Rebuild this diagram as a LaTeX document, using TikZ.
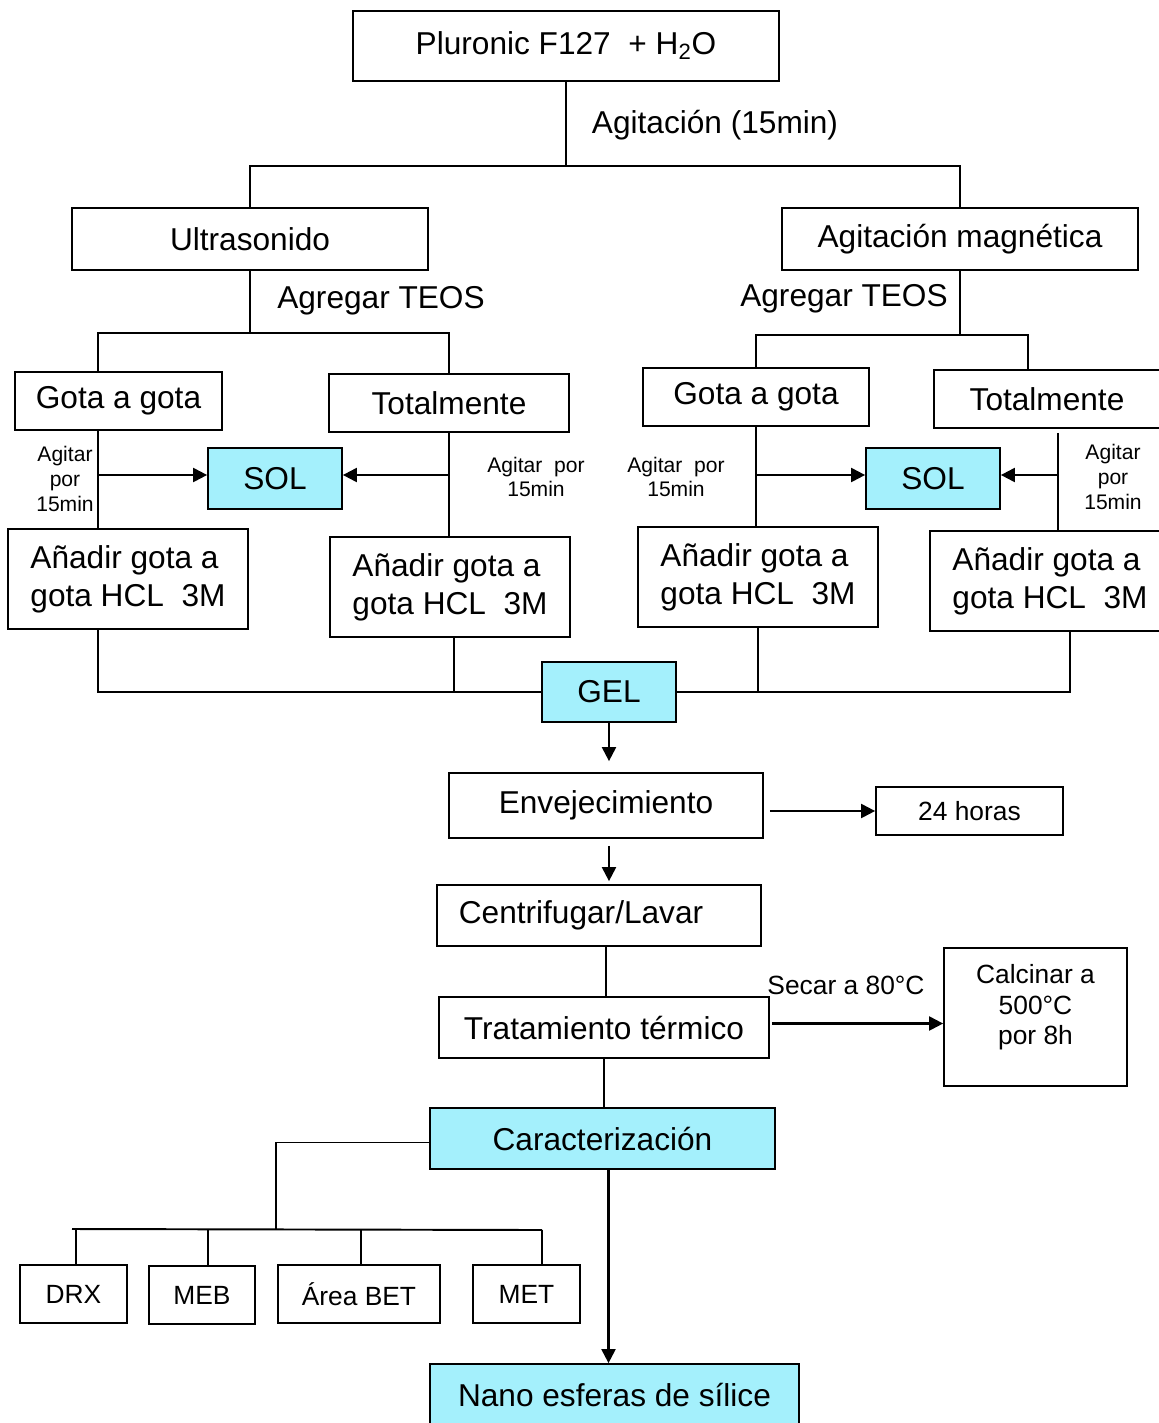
\documentclass[tikz,border=0pt]{standalone}
\usepackage{fontspec}
\setmainfont{Liberation Sans}
\usetikzlibrary{arrows.meta}
\definecolor{gel-cyan}{RGB}{164,240,252}
\tikzset{
    flow-box/.style = {draw=black, fill=white, line width=1pt, rectangle, inner sep=2pt, font=\fontsize{18}{21.6}\selectfont},
    flow-box-fill/.style = {flow-box, fill=gel-cyan},
    box-size/.style 2 args = {minimum width=#1*0.02cm, minimum height=#2*0.02cm},
    flow-label/.style = {font=\fontsize{18}{21.6}\selectfont, inner sep=0pt},
    small-label/.style = {font=\fontsize{12}{14}\selectfont, align=center, inner sep=0pt},
    mid-label/.style = {font=\fontsize{15}{17.6}\selectfont},
    flow-line/.style = {line width=1.1pt},
    flow-arrow/.style = {-{Triangle[length=8pt,width=8pt]}, line width=1.2pt},
}

\begin{document}
\begin{tikzpicture}[x=0.02cm, y=-0.02cm]
\path[use as bounding box, fill=white] (0,0) rectangle (1159,1423);

% boxes
\node[flow-box, box-size={426}{70}] (pluronic) at (566,46) {Pluronic F127~ + H\textsubscript{2}O};
\node[flow-box, box-size={356}{62}] (ultra) at (250,239) {Ultrasonido};
\node[flow-box, box-size={356}{62}] (magnetica) at (960,239) {Agitación magnética};
\node[flow-box, box-size={207}{58}] (gotaL) at (118.5,401) {Gota a gota};
\node[flow-box, box-size={240}{58}] (totalL) at (449,403) {Totalmente};
\node[flow-box-fill, box-size={134}{61}] (solL) at (275,478.5) {SOL};
\node[flow-box, box-size={240}{100}, align=left] (anadirL1) at (128,579) {Añadir gota a\\gota HCL~ 3M};
\node[flow-box, box-size={240}{100}, align=left] (anadirL2) at (450,587) {Añadir gota a\\gota HCL~ 3M};
\node[flow-box, box-size={226}{58}] (gotaR) at (756,397) {Gota a gota};
\node[flow-box, box-size={226}{58}] (totalR) at (1047,399) {Totalmente};
\node[flow-box-fill, box-size={134}{61}] (solR) at (933,478.5) {SOL};
\node[flow-box, box-size={240}{100}, align=left] (anadirR1) at (758,577) {Añadir gota a\\gota HCL~ 3M};
\node[flow-box, box-size={240}{100}, align=left] (anadirR2) at (1050,581) {Añadir gota a\\gota HCL~ 3M};
\node[flow-box-fill, box-size={134}{60}] (gel) at (609,692) {GEL};
\node[flow-box, box-size={314}{65}] (envejec) at (606,805.5) {Envejecimiento};
\node[flow-box, mid-label, box-size={187}{48}] (horas) at (969.5,811) {24 horas};
\node[flow-box, box-size={324}{61}] (centri) at (599,915.5) {\hspace*{-0.72cm}Centrifugar/Lavar};
\node[flow-box, box-size={330}{61}] (termico) at (604,1027.5) {Tratamiento térmico};
\node[flow-box, mid-label, box-size={183}{138}, align=center, text depth=0.5cm] (calcinar) at (1035.5,1017) {Calcinar a\\500°C\\por 8h};
\node[flow-box-fill, box-size={345}{61}] (caract) at (602.5,1138.5) {Caracterización};
\node[flow-box, mid-label, box-size={107}{58}] (drx) at (73.5,1294) {DRX};
\node[flow-box, mid-label, box-size={106}{58}] (meb) at (202,1295) {MEB};
\node[flow-box, mid-label, box-size={162}{58}] (bet) at (359,1294) {Área BET};
\node[flow-box, mid-label, box-size={107}{58}] (met) at (526.5,1294) {MET};
\node[flow-box-fill, box-size={369}{62}] (nano) at (614.5,1395) {Nano esferas de sílice};

% labels
\node[flow-label] (agit) at (715,125) {Agitación (15min)};
\node[flow-label] (teosL) at (381,301) {Agregar TEOS};
\node[flow-label] (teosR) at (844,299) {Agregar TEOS};
\node[small-label] (agitL1) at (65,479) {Agitar\\por\\15min};
\node[small-label] (agitL2) at (536,477) {Agitar~ por\\15min};
\node[small-label] (agitR1) at (676,477) {Agitar~ por\\15min};
\node[small-label] (agitR2) at (1113,477) {Agitar\\por\\15min};
\node[mid-label, inner sep=0pt] (secar) at (846,985) {Secar a 80°C};

% top split
\draw[flow-line] (pluronic.south) -- ++(0,84) coordinate (topsplit);
\draw[flow-line] (ultra.north) |- (topsplit) -| (magnetica.north);

% left branch
\coordinate (jL1) at (98,475);
\draw[flow-line] (ultra.south) -- ++(0,62) coordinate (splitL);
\draw[flow-line] (jL1 |- gotaL.north) |- (splitL) -| (totalL.north);
\draw[flow-line] (jL1 |- gotaL.south) -- (jL1 |- anadirL1.north);
\draw[flow-arrow] (jL1) -- (jL1 -| solL.west);
\draw[flow-line] (totalL.south) -- (totalL.south |- anadirL2.north);
\draw[flow-arrow] (totalL.south |- jL1) -- (jL1 -| solL.east);

% right branch
\coordinate (xR1) at (1028,0);
\coordinate (jR2) at (1058,475);
\draw[flow-line] (magnetica.south) -- ++(0,64) coordinate (splitR);
\draw[flow-line] (gotaR.north) |- (splitR) -| (totalR.north -| xR1);
\draw[flow-line] (gotaR.south) -- (gotaR.south |- anadirR1.north);
\draw[flow-arrow] (gotaR.south |- jR2) -- (jR2 -| solR.west);
\draw[flow-line] (jR2 |- totalR.south) ++(0,4) -- (jR2 |- anadirR2.north);
\draw[flow-arrow] (jR2) -- (jR2 -| solR.east);

% join into GEL
\coordinate (xR2) at (1070,0);
\draw[flow-line] (jL1 |- anadirL1.south) |- (gel.west);
\draw[flow-line] ([xshift=4*0.02cm]anadirL2.south) -- ([xshift=4*0.02cm]anadirL2.south |- gel.west);
\draw[flow-line] (anadirR1.south) -- (anadirR1.south |- gel.east);
\draw[flow-line] (xR2 |- anadirR2.south) |- (gel.east);

% main chain
\draw[flow-arrow, shorten >=0.22cm] (gel.south) -- (gel.south |- envejec.north);
\draw[flow-arrow, shorten <=0.12cm] (envejec.east |- horas.west) -- (horas.west);
\draw[flow-arrow, shorten <=0.14cm, shorten >=0.06cm] ([xshift=3*0.02cm]envejec.south) -- ([xshift=3*0.02cm]envejec.south |- centri.north);
\draw[flow-line] ([xshift=7*0.02cm]centri.south) -- ([xshift=7*0.02cm]centri.south |- termico.north);
\draw[flow-arrow, shorten <=0.04cm] ([yshift=4*0.02cm]termico.east) -- ([yshift=4*0.02cm]termico.east -| calcinar.west);
\draw[flow-line] (termico.south) -- (termico.south |- caract.north);
\draw[flow-arrow] ([xshift=6*0.02cm]caract.south) -- ([xshift=6*0.02cm]caract.south |- nano.north);

% characterisation
\coordinate (bus) at (276,1230);
\coordinate (bus-start) at (72,1229);
\draw[flow-line] ([yshift=-4*0.02cm]caract.west) -| (bus);
\foreach \name/\xx in {drx/76, meb/208, bet/361, met/542} {
    \coordinate (c-\name) at (\xx,1230);
    \draw[flow-line] (c-\name) -- (c-\name |- \name.north);
}
\draw[flow-line] (bus-start) -- (c-met);
\end{tikzpicture}
\end{document}
